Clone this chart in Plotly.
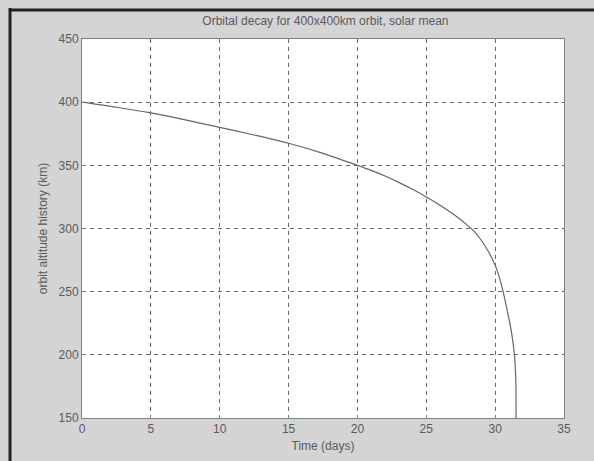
import plotly.graph_objects as go

time_days = [0, 2.5, 5, 7.5, 10, 12.5, 15, 17.5, 20, 21, 22, 23, 24, 25, 26, 27, 28,
             28.5, 29, 29.5, 30, 30.3, 30.6, 30.9, 31.2, 31.4, 31.5, 31.52]
altitude_km = [400, 396, 391.5, 386, 380, 374, 367.5, 359.5, 350, 346, 341.5, 336.5, 331,
               325, 318.5, 311, 302.5, 297.5, 290.5, 282, 271, 261.5, 249, 234, 217, 200,
               180, 150]

x_ticks = [0, 5, 10, 15, 20, 25, 30, 35]
y_ticks = [150, 200, 250, 300, 350, 400, 450]

title_text = "Orbital decay for 400x400km orbit, solar mean"
x_title = "Time (days)"
y_title = "orbit altitude history (km)"

W, H = 594, 461
L, R, T, B = 82, 30, 39, 43
pw, ph = W - L - R, H - T - B

def px(xp):
    return (xp - L) / pw

def py(yp):
    return (H - B - yp) / ph

fig = go.Figure()
fig.add_trace(go.Scatter(x=time_days, y=altitude_km, mode="lines",
                         line=dict(color="#666666", width=1.2, shape="spline", smoothing=0.8),
                         showlegend=False, hoverinfo="skip"))

font = dict(family="Liberation Sans, Arial, sans-serif", size=12, color="#5a5a5a")
axis_common = dict(showgrid=True, gridcolor="#6a6a6a", griddash="4px,4px", gridwidth=1,
                   showline=True, linecolor="#808080", linewidth=1, mirror=True,
                   ticks="inside", ticklen=3, tickcolor="#808080", zeroline=False,
                   tickfont=font, automargin=False)

fig.update_layout(
    width=W, height=H,
    margin=dict(l=L, r=R, t=T, b=B),
    paper_bgcolor="#d4d4d4",
    plot_bgcolor="#ffffff",
    font=font,
    showlegend=False,
    title=dict(text=title_text, x=300 / W, xanchor="center", xref="paper",
               y=1 - 21 / H, yanchor="middle", font=font),
    xaxis=dict(range=[0, 35], tickvals=x_ticks, ticktext=[str(v) for v in x_ticks],
               title=dict(text=x_title, standoff=6, font=font), **axis_common),
    yaxis=dict(range=[150, 450], tickvals=y_ticks, ticktext=[str(v) for v in y_ticks],
               title=dict(text=y_title, standoff=8, font=font), **axis_common),
    shapes=[
        dict(type="line", xref="paper", yref="paper", x0=px(10), x1=px(10),
             y0=py(8), y1=py(470), line=dict(color="#222222", width=3)),
        dict(type="line", xref="paper", yref="paper", x0=px(9), x1=px(600),
             y0=py(10), y1=py(10), line=dict(color="#222222", width=3)),
    ],
)

fig.write_html("out.html", config={"displayModeBar": False},
               post_script="document.body.style.margin='0';document.body.style.overflow='hidden';")
